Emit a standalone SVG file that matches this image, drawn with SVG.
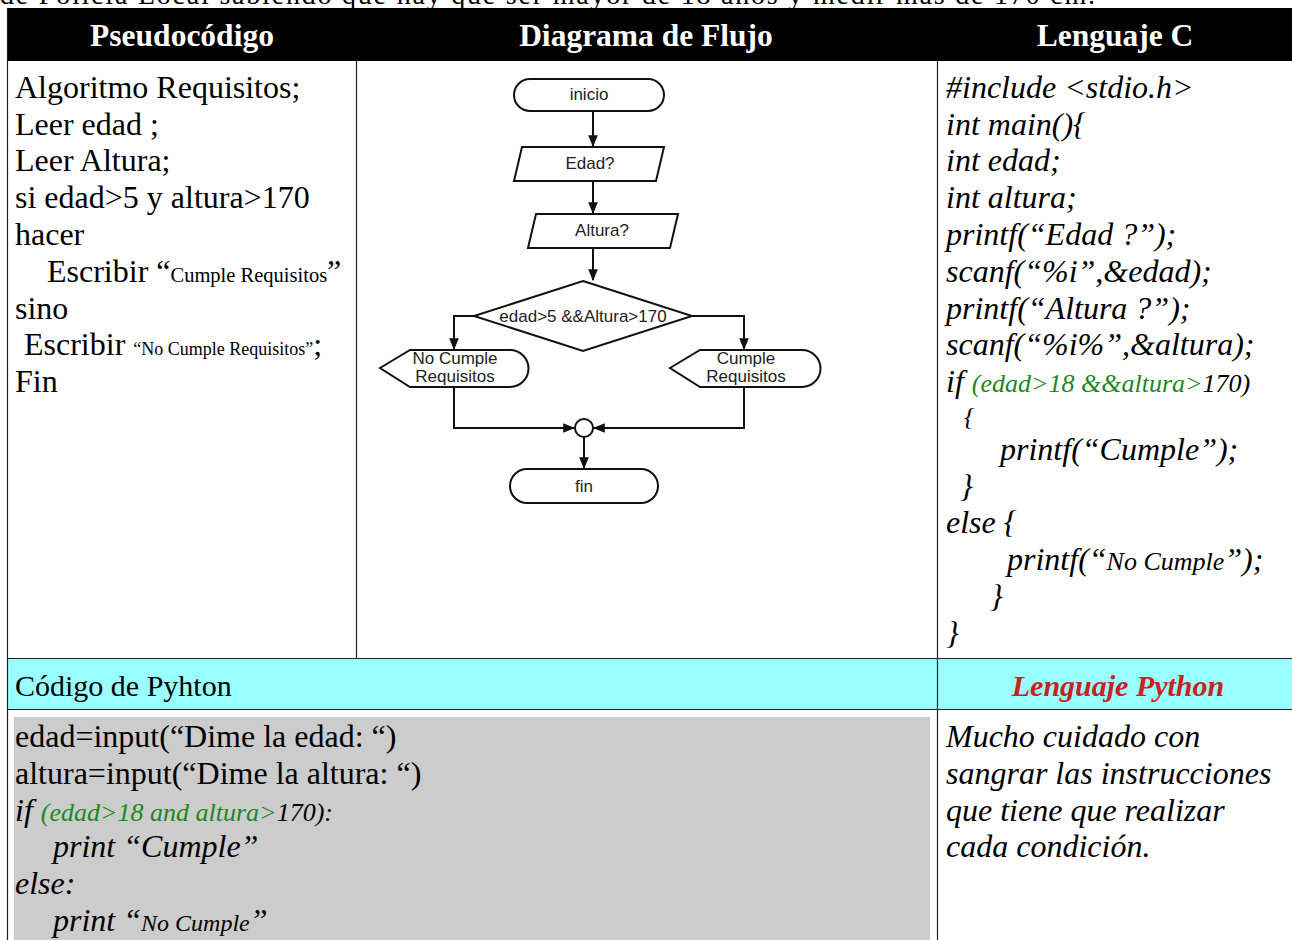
<svg xmlns="http://www.w3.org/2000/svg" width="1292" height="940" viewBox="0 0 1292 940">
<style>
.s{font-family:"Liberation Serif","Times New Roman",serif;fill:#000}
.p{font-size:32px}
.i{font-style:italic}
.hd{font-family:"Liberation Serif",serif;font-weight:bold;font-size:31.5px;fill:#fff;text-anchor:middle}
.g{fill:#1a8a1a}
.fc{font-family:"Liberation Sans",Arial,sans-serif;font-size:17px;fill:#222;text-anchor:middle}
.sh{fill:#fff;stroke:#111;stroke-width:2}
.ln{fill:none;stroke:#111;stroke-width:2}
.grid{stroke:#222;stroke-width:1.2;fill:none}
</style>
<defs>
<marker id="ah" viewBox="0 0 10 10" refX="9" refY="5" markerWidth="6" markerHeight="6" orient="auto" markerUnits="strokeWidth">
<path d="M0,1 L10,5 L0,9 z" fill="#111"/>
</marker>
</defs>
<rect width="1292" height="940" fill="#fff"/>
<text class="s" x="0" y="4" font-size="28" textLength="1095">de Policía Local sabiendo que hay que ser mayor de 18 años y medir más de 170 cm.</text>

<g id="table">
<rect x="8" y="8" width="1284" height="53" fill="#000"/>
<text class="hd" x="182" y="46">Pseudocódigo</text>
<text class="hd" x="646" y="46">Diagrama de Flujo</text>
<text class="hd" x="1115" y="46">Lenguaje C</text>
<rect x="8" y="658" width="1284" height="51" fill="#99ffff"/>
<rect x="14" y="717" width="916" height="223" fill="#cccccc"/>
<line class="grid" x1="7.5" y1="8" x2="7.5" y2="940"/>
<line class="grid" x1="356.5" y1="61" x2="356.5" y2="658"/>
<line class="grid" x1="937.5" y1="61" x2="937.5" y2="940"/>
<line class="grid" x1="8" y1="658.5" x2="1292" y2="658.5"/>
<line class="grid" x1="8" y1="709.5" x2="1292" y2="709.5"/>
</g>

<g id="pseudocodigo" class="s p">
<text x="15" y="98">Algoritmo Requisitos;</text>
<text x="15" y="135">Leer edad ;</text>
<text x="15" y="171">Leer Altura;</text>
<text x="15" y="208">si edad&gt;5 y altura&gt;170</text>
<text x="15" y="245">hacer</text>
<text x="47" y="282">Escribir “<tspan font-size="20.5">Cumple Requisitos</tspan>”</text>
<text x="15" y="319">sino</text>
<text x="24" y="355">Escribir <tspan font-size="18">“No Cumple Requisitos”</tspan>;</text>
<text x="15" y="392">Fin</text>
</g>

<g id="lenguaje-c" class="s p i">
<text x="946" y="98">#include &lt;stdio.h&gt;</text>
<text x="946" y="135">int main(){</text>
<text x="946" y="171">int edad;</text>
<text x="946" y="208">int altura;</text>
<text x="946" y="245">printf(“Edad ?”);</text>
<text x="946" y="282">scanf(“%i”,&amp;edad);</text>
<text x="946" y="319">printf(“Altura ?”);</text>
<text x="946" y="355">scanf(“%i%”,&amp;altura);</text>
<text x="946" y="392">if <tspan font-size="26"><tspan class="g">(edad&gt;18 &amp;&amp;altura&gt;</tspan>170)</tspan></text>
<text x="964" y="425" font-size="26">{</text>
<text x="1000" y="460">printf(“Cumple”);</text>
<text x="960" y="497">}</text>
<text x="946" y="533">else {</text>
<text x="1007" y="570">printf(“<tspan font-size="26">No Cumple</tspan>”);</text>
<text x="990" y="607">}</text>
<text x="946" y="644">}</text>
</g>

<g id="python-header">
<text class="s" x="15" y="696" font-size="30">Código de Pyhton</text>
<text class="s i" x="1118" y="696" font-size="30" font-weight="bold" text-anchor="middle" style="fill:#c9211e">Lenguaje Python</text>
</g>

<g id="python-code" class="s p">
<text x="15" y="747">edad=input(“Dime la edad: “)</text>
<text x="15" y="784">altura=input(“Dime la altura: “)</text>
<text x="15" y="821" class="i">if <tspan font-size="26"><tspan class="g">(edad&gt;18 and altura&gt;</tspan>170):</tspan></text>
<text x="53" y="857" class="i">print “Cumple”</text>
<text x="15" y="894" class="i">else:</text>
<text x="53" y="931" class="i">print “<tspan font-size="24">No Cumple</tspan>”</text>
</g>

<g id="nota" class="s p i">
<text x="946" y="747">Mucho cuidado con</text>
<text x="946" y="784">sangrar las instrucciones</text>
<text x="946" y="821">que tiene que realizar</text>
<text x="946" y="857">cada condición.</text>
</g>

<g id="connectors">
<line class="ln" x1="593" y1="111" x2="593" y2="146" marker-end="url(#ah)"/>
<line class="ln" x1="593" y1="181" x2="593" y2="213" marker-end="url(#ah)"/>
<line class="ln" x1="593" y1="248" x2="593" y2="280" marker-end="url(#ah)"/>
<polyline class="ln" points="474,316 454,316 454,349" marker-end="url(#ah)"/>
<polyline class="ln" points="692,316 744,316 744,349" marker-end="url(#ah)"/>
<polyline class="ln" points="454,387 454,428 574,428" marker-end="url(#ah)"/>
<polyline class="ln" points="744,387 744,428 594,428" marker-end="url(#ah)"/>
<line class="ln" x1="584" y1="437" x2="584" y2="468" marker-end="url(#ah)"/>
</g>

<g id="inicio">
<rect class="sh" x="514" y="79" width="150" height="32" rx="16"/>
<text class="fc" x="589" y="100">inicio</text>
</g>
<g id="edad">
<polygon class="sh" points="522,147 664,147 656,181 514,181"/>
<text class="fc" x="590" y="169">Edad?</text>
</g>
<g id="altura">
<polygon class="sh" points="536,214 678,214 670,248 528,248"/>
<text class="fc" x="602" y="236">Altura?</text>
</g>
<g id="decision">
<polygon class="sh" points="583,281 692,316 583,351 474,316"/>
<text class="fc" x="583" y="322">edad&gt;5 &amp;&amp;Altura&gt;170</text>
</g>
<g id="no-cumple">
<path class="sh" d="M380,368 L410,350 L510,350 A18,18 0 0 1 510,387 L410,387 Z"/>
<text class="fc" x="455" y="364">No Cumple</text>
<text class="fc" x="455" y="382">Requisitos</text>
</g>
<g id="cumple">
<path class="sh" d="M670,368 L700,350 L802,350 A18,18 0 0 1 802,387 L700,387 Z"/>
<text class="fc" x="746" y="364">Cumple</text>
<text class="fc" x="746" y="382">Requisitos</text>
</g>
<g id="union">
<circle class="sh" cx="584" cy="428" r="9"/>
</g>
<g id="fin">
<rect class="sh" x="510" y="469" width="148" height="34" rx="17"/>
<text class="fc" x="584" y="492">fin</text>
</g>
</svg>
